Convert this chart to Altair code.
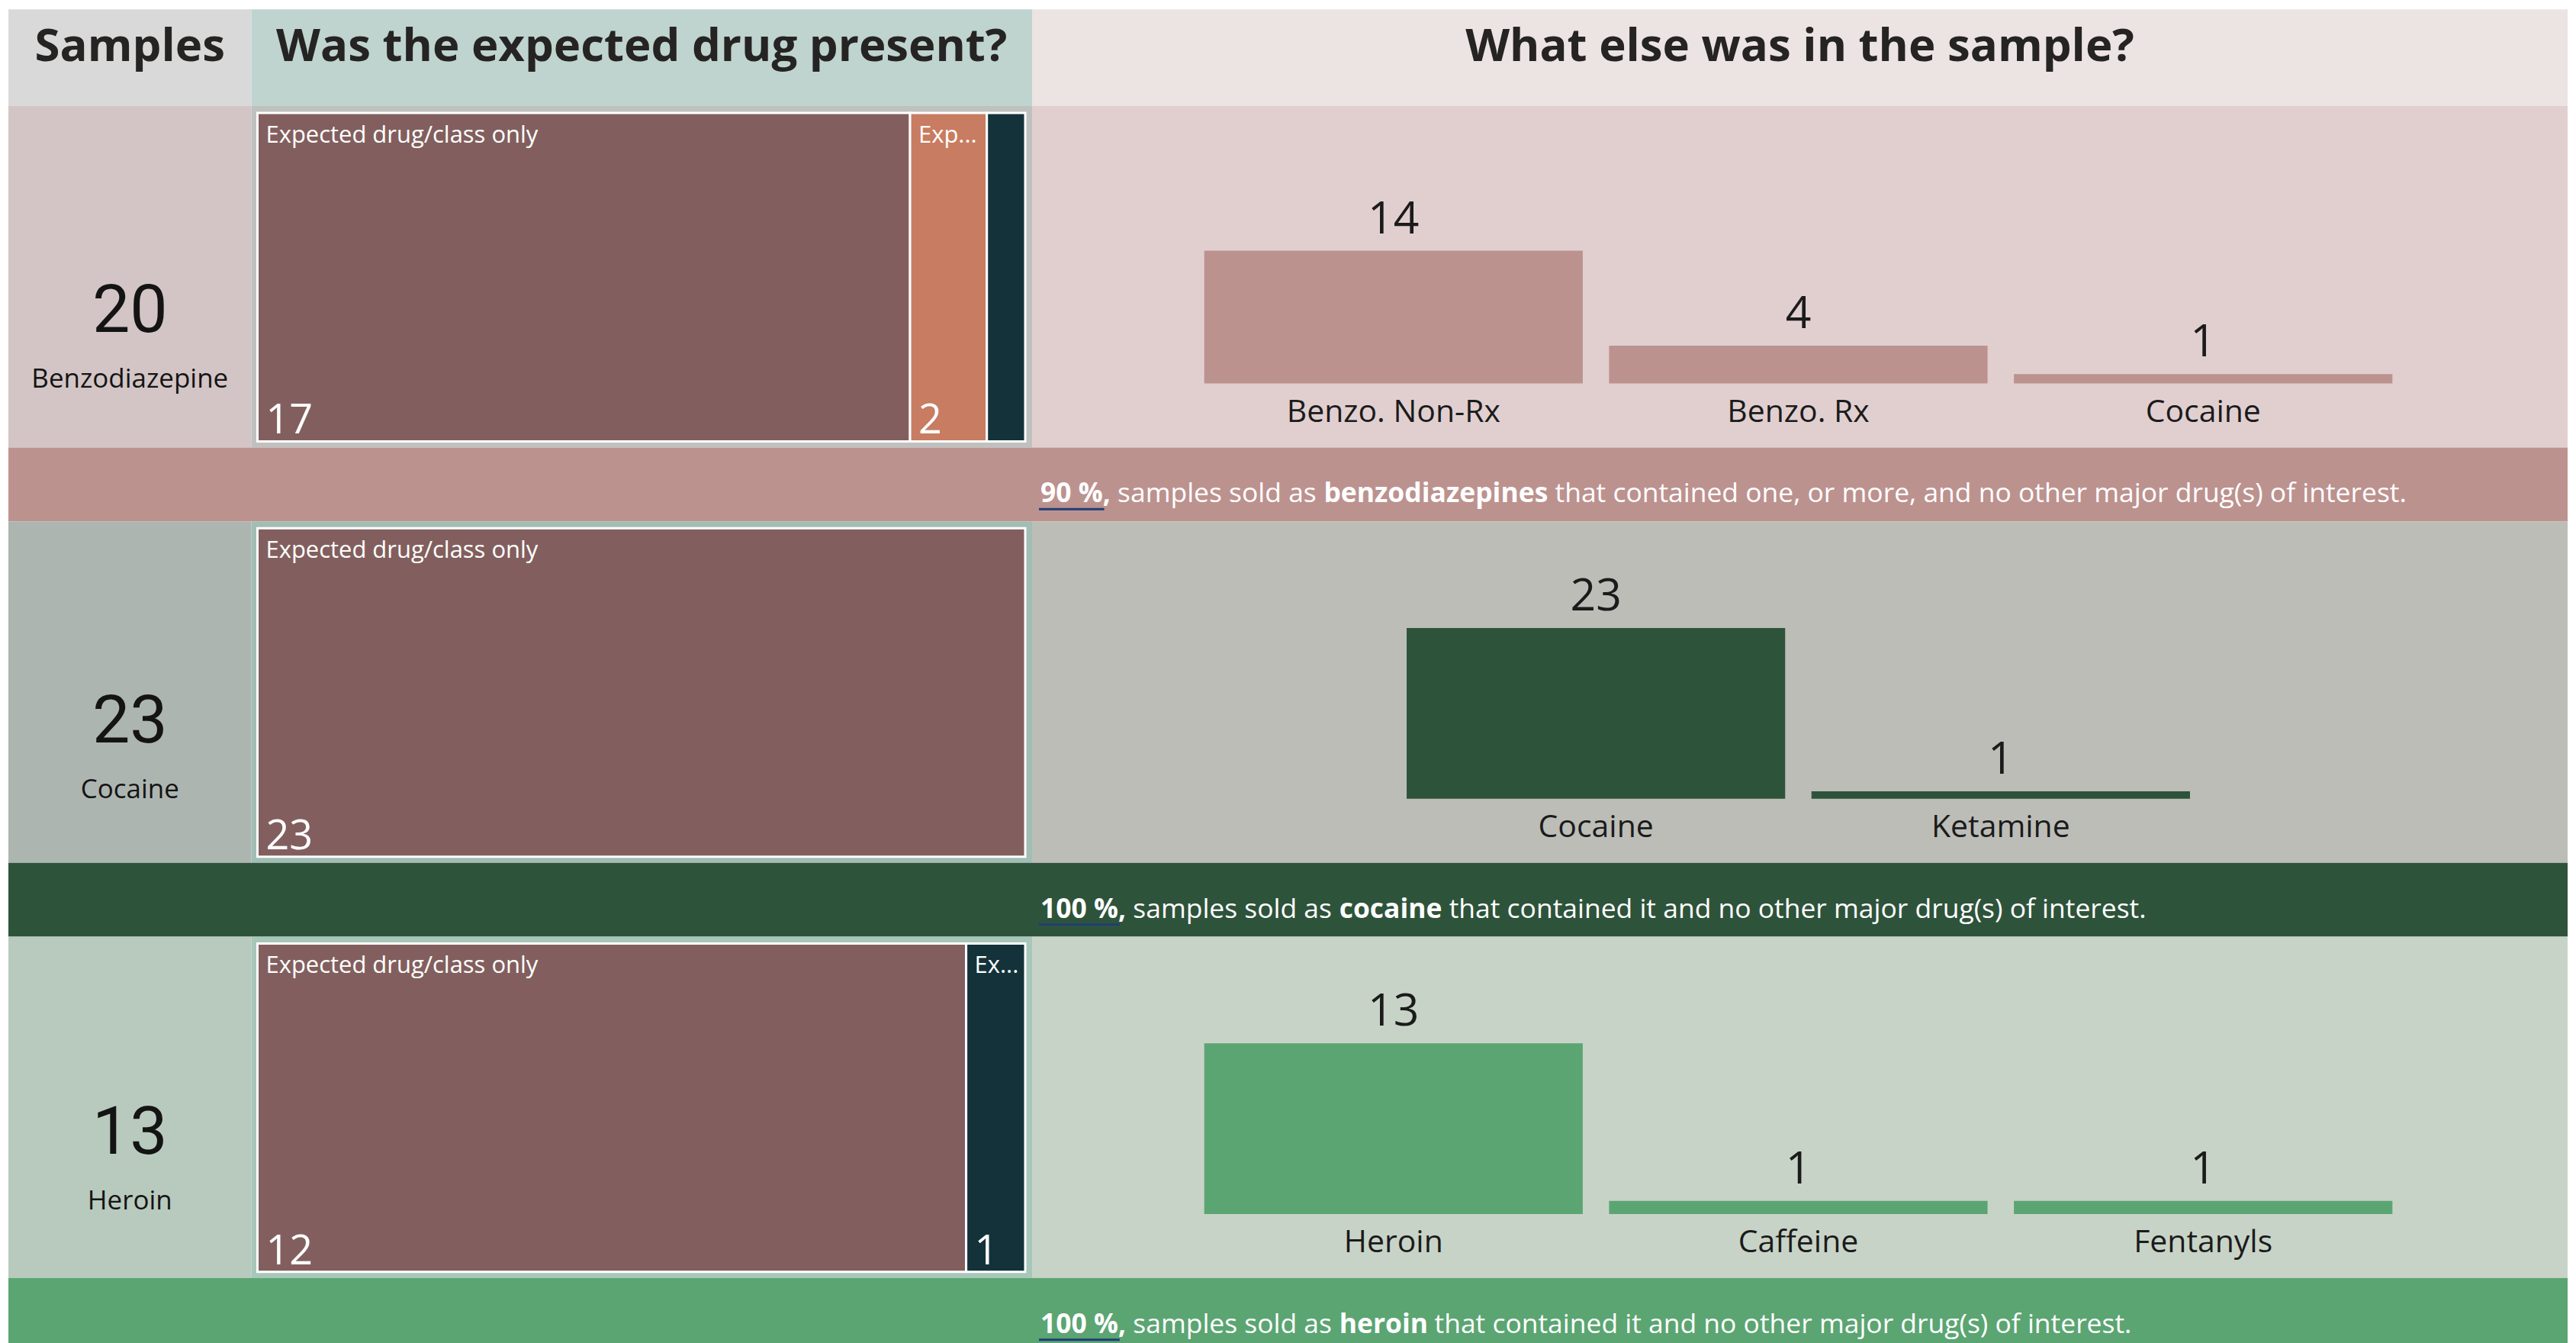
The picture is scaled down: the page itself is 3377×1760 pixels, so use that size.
import glob
import os
import pandas as pd
import altair as alt

# ---------------- data ----------------
headers = ["Samples", "Was the expected drug present?", "What else was in the sample?"]
drugs = ["Benzodiazepine", "Cocaine", "Heroin"]
samples = [20, 23, 13]

presence_categories = ["Expected drug/class only",
                       "Expected drug/class + other drug(s)",
                       "Expected drug/class + other substance(s)"]
presence_benzo = [17, 2, 1]
presence_cocaine = [23, 0, 0]
presence_heroin = [12, 0, 1]

else_benzo_labels = ["Benzo. Non-Rx", "Benzo. Rx", "Cocaine"]
else_benzo_values = [14, 4, 1]
else_cocaine_labels = ["Cocaine", "Ketamine"]
else_cocaine_values = [23, 1]
else_heroin_labels = ["Heroin", "Caffeine", "Fentanyls"]
else_heroin_values = [13, 1, 1]
else_axis_max = [18, 23, 13]

summary_pct = ["90 %,", "100 %,", "100 %,"]
summary_lead = "samples sold as"
summary_drug = ["benzodiazepines", "cocaine", "heroin"]
summary_tail = ["that contained one, or more, and no other major drug(s) of interest.",
                "that contained it and no other major drug(s) of interest.",
                "that contained it and no other major drug(s) of interest."]

presence_rows = [presence_benzo, presence_cocaine, presence_heroin]
else_labels = [else_benzo_labels, else_cocaine_labels, else_heroin_labels]
else_values = [else_benzo_values, else_cocaine_values, else_heroin_values]

# ---------------- style ----------------
FONT = "Open Sans"
NUM_FONT = "Roboto"
TXT = "#252423"
DARK = "#1b1b1b"
W_LEFT, W_MID, W_RIGHT = 319, 1025, 2016
W_ALL = W_LEFT + W_MID + W_RIGHT
H_HEAD, H_ROW, H_BAN = 127, 448, 97
head_bg = ["#d9d9d9", "#bfd3cf", "#ece3e3"]
left_bg = ["#d3c5c5", "#adb5b0", "#b8cabe"]
mid_bg = ["#bfc1bf", "#a2bdb3", "#a6c7b9"]
right_bg = ["#e1cfd0", "#bcbdb7", "#c8d3c7"]
accent = ["#bc928f", "#2e533b", "#5ba572"]
presence_colors = ["#825f5e", "#c87c61", "#14323a"]
num_baseline = [296, 290, 285]
name_baseline = [369, 363, 358]
TM_X0, TM_X1 = 8, 1016
TM_W = TM_X1 - TM_X0

# ---------------- text measuring (for inline bold/regular runs) ----------------
_ALL = []
for root in ["/usr/share/fonts", "/usr/local/share/fonts",
             os.path.expanduser("~/.fonts"), os.path.expanduser("~/.local/share/fonts")]:
    _ALL += glob.glob(os.path.join(root, "**", "*.ttf"), recursive=True)
    _ALL += glob.glob(os.path.join(root, "**", "*.otf"), recursive=True)
_ALL.sort()


def _pick(pred):
    for p in _ALL:
        if pred(os.path.basename(p)):
            return p
    return None


_reg_path = _pick(lambda b: b == "OpenSans-Regular.ttf") or \
    _pick(lambda b: b.startswith("OpenSans") and "wght" in b and "Italic" not in b)
_bold_path = _pick(lambda b: b == "OpenSans-Bold.ttf") or _reg_path

_EM = {' ': 0.26, 'a': 0.556, 'b': 0.613, 'c': 0.476, 'd': 0.613, 'e': 0.561, 'f': 0.339,
       'g': 0.548, 'h': 0.614, 'i': 0.253, 'j': 0.253, 'k': 0.525, 'l': 0.253, 'm': 0.93,
       'n': 0.614, 'o': 0.604, 'p': 0.613, 'q': 0.613, 'r': 0.408, 's': 0.477, 't': 0.353,
       'u': 0.614, 'v': 0.501, 'w': 0.778, 'x': 0.524, 'y': 0.502, 'z': 0.477, '%': 0.807,
       ',': 0.245, '.': 0.266, '(': 0.296, ')': 0.296, '-': 0.322, '/': 0.367}


def text_width(s, size, bold=False):
    try:
        from PIL import ImageFont
        path = _bold_path if bold else _reg_path
        f = ImageFont.truetype(path, size)
        if bold and "Bold" not in os.path.basename(path):
            try:
                f.set_variation_by_name("Bold")
            except Exception:
                pass
        return float(f.getlength(s))
    except Exception:
        w = sum(_EM.get(c, 0.572 if c.isdigit() else 0.58) for c in s) * size
        return w * (1.07 if bold else 1.0)


def bg(fill):
    return alt.ViewBackground(fill=fill, strokeWidth=0)


one = pd.DataFrame({"k": [0]})

# ---------------- header ----------------
head_widths = [W_LEFT, W_MID, W_RIGHT]
head_charts = []
for j, t in enumerate(headers):
    head_charts.append(
        alt.Chart(pd.DataFrame({"t": [t]})).mark_text(
            font=FONT, fontSize=60, fontWeight="bold", color=TXT, baseline="alphabetic"
        ).encode(x=alt.value(head_widths[j] / 2), y=alt.value(68), text="t:N")
        .properties(width=head_widths[j], height=H_HEAD, view=bg(head_bg[j]))
    )
header_row = alt.hconcat(*head_charts, spacing=0)


def samples_panel(i):
    df = pd.DataFrame({"drug": [drugs[i]], "n": [samples[i]]})
    base = alt.Chart(df)
    num = base.mark_text(font=NUM_FONT, fontSize=88, color="#141414", baseline="alphabetic").encode(
        x=alt.value(W_LEFT / 2), y=alt.value(num_baseline[i]), text="n:Q")
    name = base.mark_text(font=FONT, fontSize=35, color="#141414", baseline="alphabetic").encode(
        x=alt.value(W_LEFT / 2), y=alt.value(name_baseline[i]), text="drug:N")
    return alt.layer(num, name).properties(width=W_LEFT, height=H_ROW, view=bg(left_bg[i]))


def presence_panel(i):
    df = pd.DataFrame({"cat": presence_categories, "count": presence_rows[i],
                       "order": list(range(len(presence_categories)))})
    base = alt.Chart(df).transform_filter("datum.count > 0").transform_window(
        cum="sum(count)", sort=[{"field": "order"}]
    ).transform_joinaggregate(total="sum(count)").transform_calculate(
        start="(datum.cum - datum.count) / datum.total",
        end="datum.cum / datum.total",
        w="datum.count / datum.total",
    )
    xs = alt.Scale(domain=[0, 1], range=[TM_X0, TM_X1])
    rect = base.mark_rect(stroke="white", strokeWidth=3).encode(
        x=alt.X("start:Q", scale=xs, axis=None),
        x2="end:Q",
        y=alt.value(9), y2=alt.value(440),
        color=alt.Color("cat:N", scale=alt.Scale(domain=presence_categories, range=presence_colors),
                        legend=None),
    )
    shown = base.transform_filter(f"datum.w * {TM_W} > 60")
    lab = shown.mark_text(
        font=FONT, fontSize=31, color="white", align="left", baseline="alphabetic", dx=11,
        limit={"expr": f"datum.w * {TM_W} - 18"}, ellipsis="...",
    ).encode(x=alt.X("start:Q", scale=xs, axis=None), y=alt.value(48), text="cat:N")
    val = shown.mark_text(
        font=FONT, fontSize=54, color="white", align="left", baseline="alphabetic", dx=11,
    ).encode(x=alt.X("start:Q", scale=xs, axis=None), y=alt.value(430), text="count:Q")
    return alt.layer(rect, lab, val).properties(width=W_MID, height=H_ROW, view=bg(mid_bg[i]))


def else_panel(i):
    cats = else_labels[i]
    df = pd.DataFrame({"cat": cats, "n": else_values[i]})
    n = len(cats)
    step, centre = 531.5, 1006
    xs = alt.Scale(domain=cats, range=[centre - n * step / 2, centre + n * step / 2],
                   paddingInner=0.065, paddingOuter=0.0325)
    ys = alt.Scale(domain=[0, else_axis_max[i]], range=[364, 140], nice=False)
    base = alt.Chart(df)
    x = alt.X("cat:N", scale=xs, axis=None, sort=None)
    bars = base.mark_bar(color=accent[i]).encode(x=x, y=alt.Y("n:Q", scale=ys, axis=None))
    vals = base.mark_text(font=FONT, fontSize=59, color=DARK, baseline="alphabetic", dy=-23).encode(
        x=x, y=alt.Y("n:Q", scale=ys, axis=None), text="n:Q")
    labs = base.mark_text(font=FONT, fontSize=41, color=DARK, baseline="alphabetic").encode(
        x=x, y=alt.value(414), text="cat:N")
    return alt.layer(bars, vals, labs).properties(width=W_RIGHT, height=H_ROW, view=bg(right_bg[i]))


def banner(i):
    size = 35.5
    x0 = W_LEFT + W_MID + 11
    segs = [(summary_pct[i], True), (summary_lead, False), (summary_drug[i], True), (summary_tail[i], False)]
    space = text_width(" ", size)
    under = alt.Chart(one).mark_rule(color="#1f3e78", strokeWidth=3).encode(
        x=alt.value(x0 - 2),
        x2=alt.value(x0 + text_width(summary_pct[i].rstrip(","), size, True) + 2),
        y=alt.value(81),
    )
    layers = [under]
    x = x0
    for t, b in segs:
        layers.append(
            alt.Chart(pd.DataFrame({"t": [t]})).mark_text(
                font=FONT, fontSize=size, fontWeight="bold" if b else "normal", color="white",
                align="left", baseline="alphabetic",
            ).encode(x=alt.value(x), y=alt.value(72), text="t:N")
        )
        x += text_width(t, size, b) + space
    return alt.layer(*layers).properties(width=W_ALL, height=H_BAN, view=bg(accent[i]))


rows = [header_row]
for i in range(3):
    rows.append(alt.hconcat(samples_panel(i), presence_panel(i), else_panel(i), spacing=0))
    rows.append(banner(i))

chart = alt.vconcat(*rows, spacing=0).properties(
    padding={"left": 3, "top": 3, "right": 3, "bottom": 3}, background="white"
).configure_view(strokeWidth=0)

chart.save("out.html", embed_options={"renderer": "svg", "actions": False})
